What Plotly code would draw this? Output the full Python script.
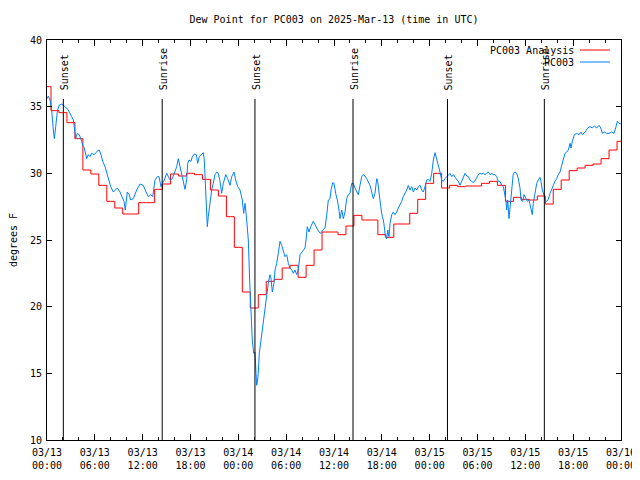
import pandas as pd
import plotly.graph_objects as go

# ---------------- data ----------------
start_time = "2025-03-13 00:00"
end_time = "2025-03-16 00:00"

# hourly analysis values (deg F), hours 0..72 from start
analysis_values = [
    36.5, 34.7, 34.55, 33.8, 32.6, 30.25, 29.95, 29.1, 27.9, 27.4,
    26.95, 26.95, 27.8, 27.8, 28.8, 29.2, 29.95, 29.8, 30.0, 29.9,
    29.55, 28.75, 28.3, 26.75, 24.45, 21.1, 19.9, 20.9, 21.9, 22.05,
    22.9, 23.1, 22.2, 23.1, 24.25, 25.6, 25.6, 25.4, 26.05, 26.85,
    26.5, 26.5, 25.4, 25.2, 26.2, 26.2, 27.0, 28.05, 29.25, 30.0,
    28.9, 29.1, 29.0, 29.05, 29.05, 29.25, 29.4, 29.1, 27.9, 28.2,
    28.05, 28.0, 28.3, 27.7, 28.8, 29.5, 30.2, 30.4, 30.6, 30.7,
    31.1, 31.75, 32.4,
]

# observations: hours after start, deg F
obs_hours = [
    0.0, 0.16, 0.38, 0.59, 0.79, 0.92, 1.09, 1.29, 1.51, 1.84,
    2.26, 2.67, 3.10, 3.30, 3.42, 3.60, 3.80, 4.05, 4.35, 4.48,
    4.68, 4.98, 5.18, 5.39, 5.61, 5.93, 6.36, 6.56, 6.77, 6.99,
    7.28, 7.49, 7.69, 7.99, 8.32, 8.53, 8.82, 9.16, 9.37, 9.66,
    9.82, 10.07, 10.32, 10.50, 10.83, 11.25, 11.67, 12.08, 12.42, 12.71,
    13.01, 13.26, 13.55, 13.84, 14.05, 14.30, 14.46, 14.71, 15.02, 15.22,
    15.43, 15.72, 16.06, 16.27, 16.47, 16.68, 16.90, 17.10, 17.31, 17.52,
    17.65, 17.81, 18.06, 18.23, 18.48, 18.73, 18.90, 19.10, 19.41, 19.61,
    19.73, 19.82, 19.91, 19.98, 20.11, 20.23, 20.45, 20.66, 20.86, 21.07,
    21.29, 21.49, 21.70, 21.91, 22.12, 22.42, 22.67, 22.96, 23.17, 23.46,
    23.67, 23.92, 24.21, 24.50, 24.67, 24.84, 25.05, 25.25, 25.42, 25.55,
    25.75, 25.93, 26.09, 26.22, 26.30, 26.40, 26.50, 26.63, 26.93, 27.13,
    27.35, 27.56, 27.76, 27.97, 28.10, 28.26, 28.47, 28.60, 28.81, 29.01,
    29.23, 29.44, 29.64, 29.85, 30.07, 30.27, 30.48, 30.70, 30.90, 31.11,
    31.32, 31.52, 31.74, 31.95, 32.15, 32.36, 32.49, 32.65, 32.87, 33.08,
    33.40, 33.62, 33.83, 34.12, 34.33, 34.58, 34.87, 35.09, 35.29, 35.50,
    35.63, 35.84, 36.00, 36.21, 36.42, 36.63, 36.75, 36.97, 37.17, 37.38,
    37.59, 37.79, 38.01, 38.22, 38.42, 38.63, 38.85, 39.05, 39.26, 39.48,
    39.68, 39.89, 40.10, 40.30, 40.52, 40.73, 40.93, 41.14, 41.27, 41.36,
    41.48, 41.65, 41.86, 42.06, 42.19, 42.31, 42.44, 42.61, 42.74, 42.90,
    43.03, 43.24, 43.44, 43.65, 43.87, 44.07, 44.28, 44.49, 44.69, 44.91,
    45.12, 45.32, 45.53, 45.75, 45.95, 46.16, 46.38, 46.58, 46.79, 47.00,
    47.20, 47.42, 47.63, 47.83, 48.04, 48.26, 48.46, 48.67, 48.88, 49.08,
    49.30, 49.51, 49.71, 49.92, 50.14, 50.34, 50.55, 50.77, 50.97, 51.18,
    51.39, 51.59, 51.81, 52.02, 52.22, 52.43, 52.65, 52.85, 53.06, 53.27,
    53.47, 53.69, 53.90, 54.10, 54.31, 54.52, 54.73, 54.94, 55.15, 55.36,
    55.57, 55.78, 55.98, 56.20, 56.41, 56.61, 56.82, 57.04, 57.24, 57.45,
    57.58, 57.66, 57.79, 57.95, 58.08, 58.20, 58.33, 58.49, 58.71, 58.92,
    59.12, 59.33, 59.46, 59.67, 59.84, 60.05, 60.25, 60.46, 60.67, 60.87,
    61.00, 61.21, 61.43, 61.63, 61.84, 61.96, 62.13, 62.34, 62.47, 62.68,
    62.88, 63.10, 63.31, 63.51, 63.72, 63.93, 64.13, 64.35, 64.56, 64.76,
    64.98, 65.19, 65.39, 65.61, 65.73, 65.90, 66.14, 66.44, 66.73, 66.95,
    67.15, 67.49, 67.82, 68.11, 68.40, 68.65, 68.95, 69.24, 69.46, 69.66,
    69.91, 70.21, 70.50, 70.84, 71.12, 71.33, 71.54, 71.75, 72.0,
]
obs_values = [
    35.6, 35.8, 35.5, 34.75, 33.25, 32.6, 33.5, 34.6, 35.1, 35.2,
    35.0, 34.75, 34.25, 34.0, 33.5, 32.6, 33.0, 32.9, 32.4, 32.1,
    31.9, 31.1, 31.4, 31.25, 31.5, 31.4, 31.7, 31.75, 31.4, 30.9,
    30.5, 30.0, 29.6, 29.0, 28.6, 28.75, 28.9, 28.6, 28.25, 27.9,
    27.25, 28.6, 28.4, 28.0, 28.1, 28.75, 29.2, 29.1, 28.6, 28.25,
    28.4, 28.25, 29.5, 29.75, 29.75, 29.0, 29.25, 29.5, 30.0, 29.75,
    29.5, 29.6, 30.1, 30.5, 31.1, 30.5, 30.0, 29.5, 28.8, 29.5,
    30.75, 31.0, 30.9, 31.25, 31.45, 31.4, 30.75, 31.25, 31.4, 31.55,
    31.0, 29.75, 28.5, 27.1, 26.0, 26.75, 27.9, 28.75, 29.25, 29.9,
    30.1, 30.0, 29.4, 28.5, 29.25, 29.9, 29.6, 29.1, 29.75, 30.1,
    29.5, 29.0, 28.75, 28.0, 27.0, 27.75, 26.5, 25.0, 22.0, 20.0,
    17.5, 16.5, 16.6, 15.0, 14.1, 14.4, 15.0, 16.5, 18.0, 18.75,
    20.0, 20.75, 21.75, 22.4, 22.1, 21.1, 21.75, 22.75, 23.25, 24.0,
    24.9, 24.6, 24.25, 23.75, 23.9, 23.25, 22.9, 22.75, 22.5, 22.75,
    22.4, 22.75, 23.9, 24.1, 24.25, 24.4, 25.0, 26.0, 25.6, 26.0,
    26.4, 26.1, 25.9, 25.6, 25.5, 25.75, 25.9, 26.9, 28.0, 28.1,
    28.75, 29.3, 29.25, 28.5, 28.0, 27.25, 26.6, 27.25, 26.6, 27.1,
    28.1, 28.4, 28.5, 29.25, 29.25, 28.9, 28.6, 28.4, 29.1, 29.75,
    29.9, 29.8, 29.6, 29.4, 29.1, 28.6, 28.1, 28.5, 29.25, 29.6,
    29.4, 28.4, 27.5, 26.75, 26.5, 26.0, 25.25, 25.1, 25.75, 25.25,
    26.25, 26.9, 27.1, 26.9, 27.1, 27.4, 27.6, 27.9, 28.25, 28.5,
    28.75, 29.1, 28.75, 29.0, 28.6, 28.9, 28.75, 29.0, 29.1, 28.75,
    28.6, 29.0, 29.5, 29.55, 29.4, 30.0, 31.0, 31.55, 31.1, 30.6,
    30.1, 29.5, 29.4, 29.6, 29.75, 29.9, 30.0, 29.75, 29.9, 29.7,
    29.55, 29.4, 29.1, 29.4, 29.7, 30.0, 29.8, 29.75, 29.5, 29.4,
    29.3, 29.45, 29.75, 29.9, 30.0, 29.95, 30.0, 29.9, 30.0, 30.1,
    29.9, 30.0, 29.9, 29.9, 29.75, 29.4, 29.4, 29.1, 29.0, 28.4,
    27.9, 27.25, 28.0, 26.6, 27.5, 28.1, 29.25, 30.0, 30.1, 30.0,
    29.6, 28.9, 28.0, 27.9, 28.4, 28.1, 27.9, 28.0, 27.5, 26.9,
    27.75, 28.5, 29.25, 29.5, 29.7, 29.4, 28.75, 28.4, 28.0, 27.9,
    28.05, 28.5, 28.9, 29.1, 29.4, 29.6, 29.9, 30.1, 30.6, 31.1,
    31.5, 31.6, 31.75, 32.25, 31.9, 32.4, 32.9, 33.0, 32.9, 33.1,
    32.9, 33.1, 33.4, 33.5, 33.4, 33.55, 33.4, 33.6, 33.4, 33.0,
    33.1, 33.0, 33.0, 33.1, 33.0, 33.4, 33.9, 33.75, 33.7,
]

sun_labels = ["Sunset", "Sunrise", "Sunset", "Sunrise", "Sunset", "Sunrise"]
sun_times = ["2025-03-13 02:03", "2025-03-13 14:27", "2025-03-14 02:05",
             "2025-03-14 14:23", "2025-03-15 02:14", "2025-03-15 14:23"]

series_names = ["PC003 Analysis", "PC003"]
series_colors = ["#ff0000", "#0080ff"]

title_text = "Dew Point for PC003 on 2025-Mar-13 (time in UTC)"
y_title = "degrees F"

# ---------------- figure ----------------
base = pd.Timestamp(start_time)
analysis_times = pd.date_range(start_time, end_time, freq="1h")
obs_times = base + pd.to_timedelta(obs_hours, unit="h")

FONT = dict(family="DejaVu Sans Mono", size=10, color="black")

# the page body has an 8px margin: size the figure so it ends at 640x480
PAGE_OFF = 8
FIG_W, FIG_H = 640 - PAGE_OFF, 480 - PAGE_OFF

fig = go.Figure()
fig.add_trace(go.Scatter(
    x=analysis_times, y=analysis_values, mode="lines", name=series_names[0],
    line=dict(color=series_colors[0], width=1, shape="hvh"), showlegend=False))
fig.add_trace(go.Scatter(
    x=obs_times, y=obs_values, mode="lines", name=series_names[1],
    line=dict(color=series_colors[1], width=1), showlegend=False))

line_top = 0.8525
for lab, t in zip(sun_labels, sun_times):
    fig.add_shape(type="line", xref="x", yref="paper", x0=t, x1=t, y0=0, y1=line_top,
                  line=dict(color="black", width=1))
    fig.add_annotation(x=t, y=0.87, xref="x", yref="paper", text=lab, textangle=-90,
                       showarrow=False, xanchor="center", yanchor="bottom",
                       font=FONT, xshift=1)

# legend (drawn manually: key on the right of the text)
leg_y = [0.975, 0.945]
for name, col, yy in zip(series_names, series_colors, leg_y):
    fig.add_annotation(x=0.9216, y=yy, xref="paper", yref="paper", text=name,
                       showarrow=False, xanchor="right", yanchor="middle", font=FONT)
    fig.add_shape(type="line", xref="paper", yref="paper", x0=0.9286, x1=0.9808,
                  y0=yy, y1=yy, line=dict(color=col, width=1))

fig.update_layout(
    width=FIG_W, height=FIG_H,
    margin=dict(l=47 - PAGE_OFF, r=19, t=40 - PAGE_OFF, b=40),
    paper_bgcolor="white", plot_bgcolor="white",
    font=FONT,
    title=dict(text=title_text, x=0.5, xref="paper",
               y=1 - (19 - PAGE_OFF) / FIG_H, yanchor="middle", font=FONT),
    showlegend=False,
)
fig.update_xaxes(
    type="date", range=[start_time, end_time],
    tickformat="%m/%d<br>%H:%M", dtick=6 * 3600 * 1000, tick0=start_time,
    ticks="inside", ticklen=6, tickcolor="black", ticklabelstandoff=3,
    minor=dict(dtick=2 * 3600 * 1000, ticks="inside", ticklen=3, tickcolor="black"),
    showline=True, linecolor="black", linewidth=1, mirror="allticks",
    showgrid=False, zeroline=False, tickfont=FONT, automargin=False,
)
fig.update_yaxes(
    range=[10, 40], dtick=5, tick0=10,
    ticks="inside", ticklen=5, tickcolor="black", ticklabelstandoff=2,
    showline=True, linecolor="black", linewidth=1, mirror="allticks",
    showgrid=False, zeroline=False, tickfont=FONT, automargin=False,
    title=dict(text=y_title, font=FONT, standoff=15),
)

fig.write_html("out.html")
